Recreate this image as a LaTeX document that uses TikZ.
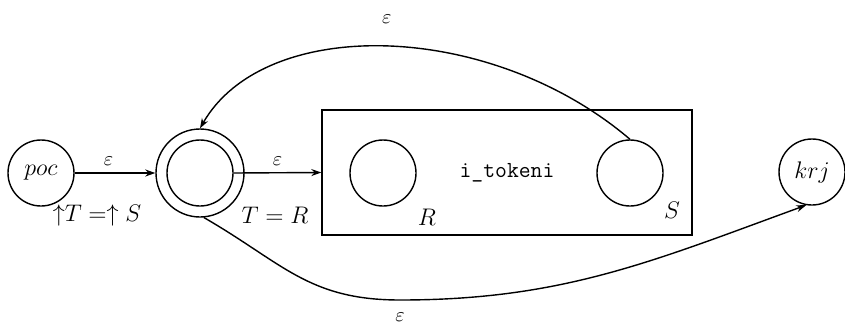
\documentclass[tikz,border=0pt]{standalone}
\usetikzlibrary{arrows.meta}
\tikzset{
  stanje/.style={draw,circle,minimum size=33pt,inner sep=0pt},
  prelaz/.style={->,>={Stealth[length=5pt,width=3.5pt]}},
  oznaka/.style={font=\fontsize{13}{15}\selectfont},
}
\begin{document}
\begin{tikzpicture}[x=0.5pt,y=-0.5pt,line width=0.7pt]
    \useasboundingbox (0,0) rectangle (845,332);
    % Stanja i blok sa tokenima.
    \node[stanje,oznaka] (poc) at (41,173) {$poc$};
    \node[stanje] (ulaz) at (200,173) {};
    \node[stanje,minimum size=44pt] (ulazv) at (200,173) {};
    \node[draw,minimum width=185pt,minimum height=62.5pt,inner sep=0pt,
        font=\ttfamily\fontsize{11.5}{13}\selectfont] (blok) at (507,172.5) {i\_tokeni};
    \node[stanje] (r) at (383,173) {};
    \node[stanje] (s) at (630,173) {};
    \node[stanje,oznaka] (krj) at (812,172) {$krj$};
    \coordinate (dno) at (400,300);

    % Prelazi.
    \draw[prelaz] (poc) -- node[above,pos=0.42] (e1) {$\varepsilon$} (ulazv);
    \draw[prelaz] (ulaz.east) -- node[above] (e2) {$\varepsilon$} (blok.west);
    \draw[prelaz] (s.north) .. controls (490,20) and (265,15) .. (ulazv.north)
        node[pos=0.5,above=8pt] (e3) {$\varepsilon$};
    \draw[prelaz] (ulazv.-85) to[out=-30,in=180,looseness=1.1]
        node[pos=1,below=3pt] (e4) {$\varepsilon$} (dno)
        to[out=0,in=200] (krj.260);

    \node[oznaka] (dodela1) at (97,215) {${\uparrow}T\mathrel{=\uparrow}S$};
    \node[oznaka] (dodela2) at (275,215) {$T=R$};
    \node[oznaka] (lr) at (427,217) {$R$};
    \node[oznaka] (ls) at (672,210) {$S$};
\end{tikzpicture}
\end{document}
